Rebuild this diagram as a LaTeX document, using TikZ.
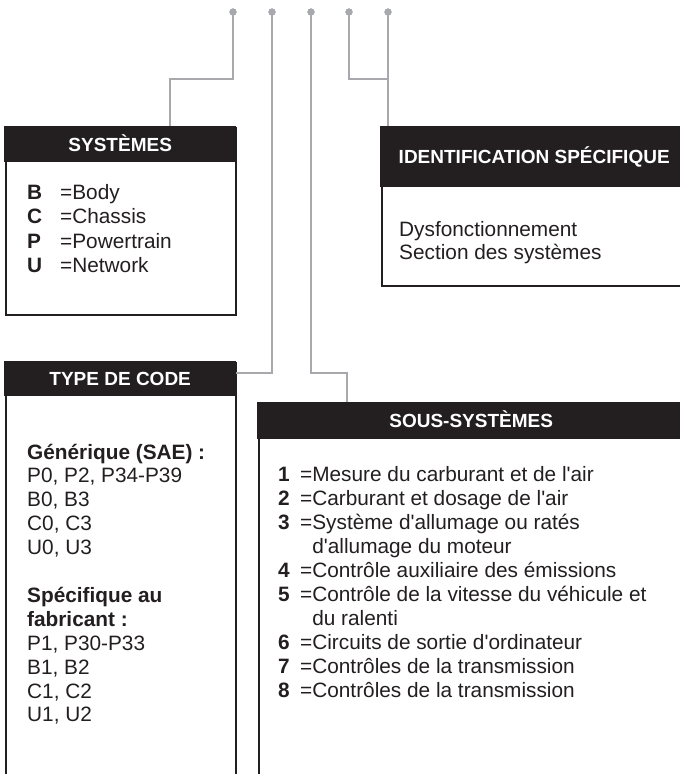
\documentclass[tikz,border=0pt]{standalone}
\usepackage{fontspec}
\setmainfont{Liberation Sans}
\newfontfamily\rob{Liberation Sans}
\definecolor{ink}{HTML}{231F20}
\definecolor{wire}{HTML}{A7A9AC}
\tikzset{
  wire/.style={draw=wire, line width=1.6pt},
  pin/.style={circle, fill=wire, inner sep=0pt, minimum size=7.2pt},
  frame/.style={draw=ink, line width=1.8pt, fill=white, inner sep=0pt, anchor=north west},
  hdr/.style={fill=ink, text=white, font=\rob\fontsize{19}{23}\selectfont\bfseries, inner sep=0pt, anchor=north west, text height=13.6pt, text depth=0pt},
  txt/.style={text=ink, font=\rob\fontsize{20.8}{24}\selectfont, inner sep=0pt, anchor=base west},
  key/.style={txt, font=\rob\fontsize{20.8}{24}\selectfont\bfseries},
}
\begin{document}
\begin{tikzpicture}[x=1pt,y=-1pt]
\useasboundingbox (0,0) rectangle (680,774);
\clip (0,0) rectangle (680,774);
\fill[white] (0,0) rectangle (680,774);

% pins
\node[pin] (p1) at (233,12) {};
\node[pin] (p2) at (272,12) {};
\node[pin] (p3) at (311,12) {};
\node[pin] (p4) at (349,12) {};
\node[pin] (p5) at (388,12) {};

% frames
\node[frame, minimum width=230pt, minimum height=187pt] (sysF) at (5,127) {};
\node[hdr, minimum width=232pt, minimum height=36pt] (sysH) at (4,126) {SYSTÈMES};

\node[frame, minimum width=320pt, minimum height=158pt] (idF) at (381,127) {};
\node[hdr, minimum width=308pt, minimum height=61pt] (idH) at (380,126) {IDENTIFICATION SPÉCIFIQUE};

\node[frame, minimum width=230pt, minimum height=430pt] (typF) at (5,362) {};
\node[hdr, minimum width=232pt, minimum height=35pt] (typH) at (4,361) {TYPE DE CODE};

\node[frame, minimum width=440pt, minimum height=400pt] (souF) at (258,403) {};
\node[hdr, minimum width=428pt, minimum height=37pt] (souH) at (257,402) {SOUS-SYSTÈMES};

% connectors
\coordinate (k1) at (170,79);
\coordinate (k2) at (236,373);
\coordinate (k3) at (347,373);
\coordinate (k4) at (388,79);
\draw[wire] (p1.center) |- (k1) -- (k1 |- sysH.north);
\draw[wire] (p2.center) |- (k2);
\draw[wire] (p3.center) |- (k3) -- (k3 |- souH.north);
\draw[wire] (p4.center) |- (k4);
\draw[wire] (p5.center) -- (p5 |- idH.north);
\node[pin] at (p1) {};
\node[pin] at (p2) {};
\node[pin] at (p3) {};
\node[pin] at (p4) {};
\node[pin] at (p5) {};

% systemes
\node[key] (sk1) at (27,199) {B};   \node[txt] (sv1) at (60,199) {=Body};
\node[key] (sk2) at (27,223.5) {C}; \node[txt] (sv2) at (60,223.5) {=Chassis};
\node[key] (sk3) at (27,248) {P};   \node[txt] (sv3) at (60,248) {=Powertrain};
\node[key] (sk4) at (27,272.5) {U}; \node[txt] (sv4) at (60,272.5) {=Network};

% identification
\node[txt] (iv1) at (399,236) {Dysfonctionnement};
\node[txt] (iv2) at (399,259) {Section des systèmes};

% type de code
\node[key] (t0) at (27,459) {Générique (SAE) :};
\node[txt] (t1) at (27,482.9) {P0, P2, P34-P39};
\node[txt] (t2) at (27,506.8) {B0, B3};
\node[txt] (t3) at (27,530.7) {C0, C3};
\node[txt] (t4) at (27,554.6) {U0, U3};
\node[key] (t6) at (27,602.4) {Spécifique au};
\node[key] (t7) at (27,626.3) {fabricant :};
\node[txt] (t8) at (27,650.2) {P1, P30-P33};
\node[txt] (t9) at (27,674.1) {B1, B2};
\node[txt] (t10) at (27,698) {C1, C2};
\node[txt] (t11) at (27,721.9) {U1, U2};

% sous-systemes
\node[key] (uk1) at (278,481) {1}; \node[txt] (uv1) at (300,481) {=Mesure du carburant et de l'air};
\node[key] (uk2) at (278,505.1) {2}; \node[txt] (uv2) at (300,505.1) {=Carburant et dosage de l'air};
\node[key] (uk3) at (278,529.2) {3}; \node[txt] (uv3) at (300,529.2) {=Système d'allumage ou ratés};
\node[txt] (uv3b) at (300,553.3) {\phantom{=}d'allumage du moteur};
\node[key] (uk4) at (278,577.4) {4}; \node[txt] (uv4) at (300,577.4) {=Contrôle auxiliaire des émissions};
\node[key] (uk5) at (278,601.5) {5}; \node[txt] (uv5) at (300,601.5) {=Contrôle de la vitesse du véhicule et};
\node[txt] (uv5b) at (300,625.6) {\phantom{=}du ralenti};
\node[key] (uk6) at (278,649.7) {6}; \node[txt] (uv6) at (300,649.7) {=Circuits de sortie d'ordinateur};
\node[key] (uk7) at (278,673.8) {7}; \node[txt] (uv7) at (300,673.8) {=Contrôles de la transmission};
\node[key] (uk8) at (278,697.9) {8}; \node[txt] (uv8) at (300,697.9) {=Contrôles de la transmission};
\end{tikzpicture}
\end{document}
